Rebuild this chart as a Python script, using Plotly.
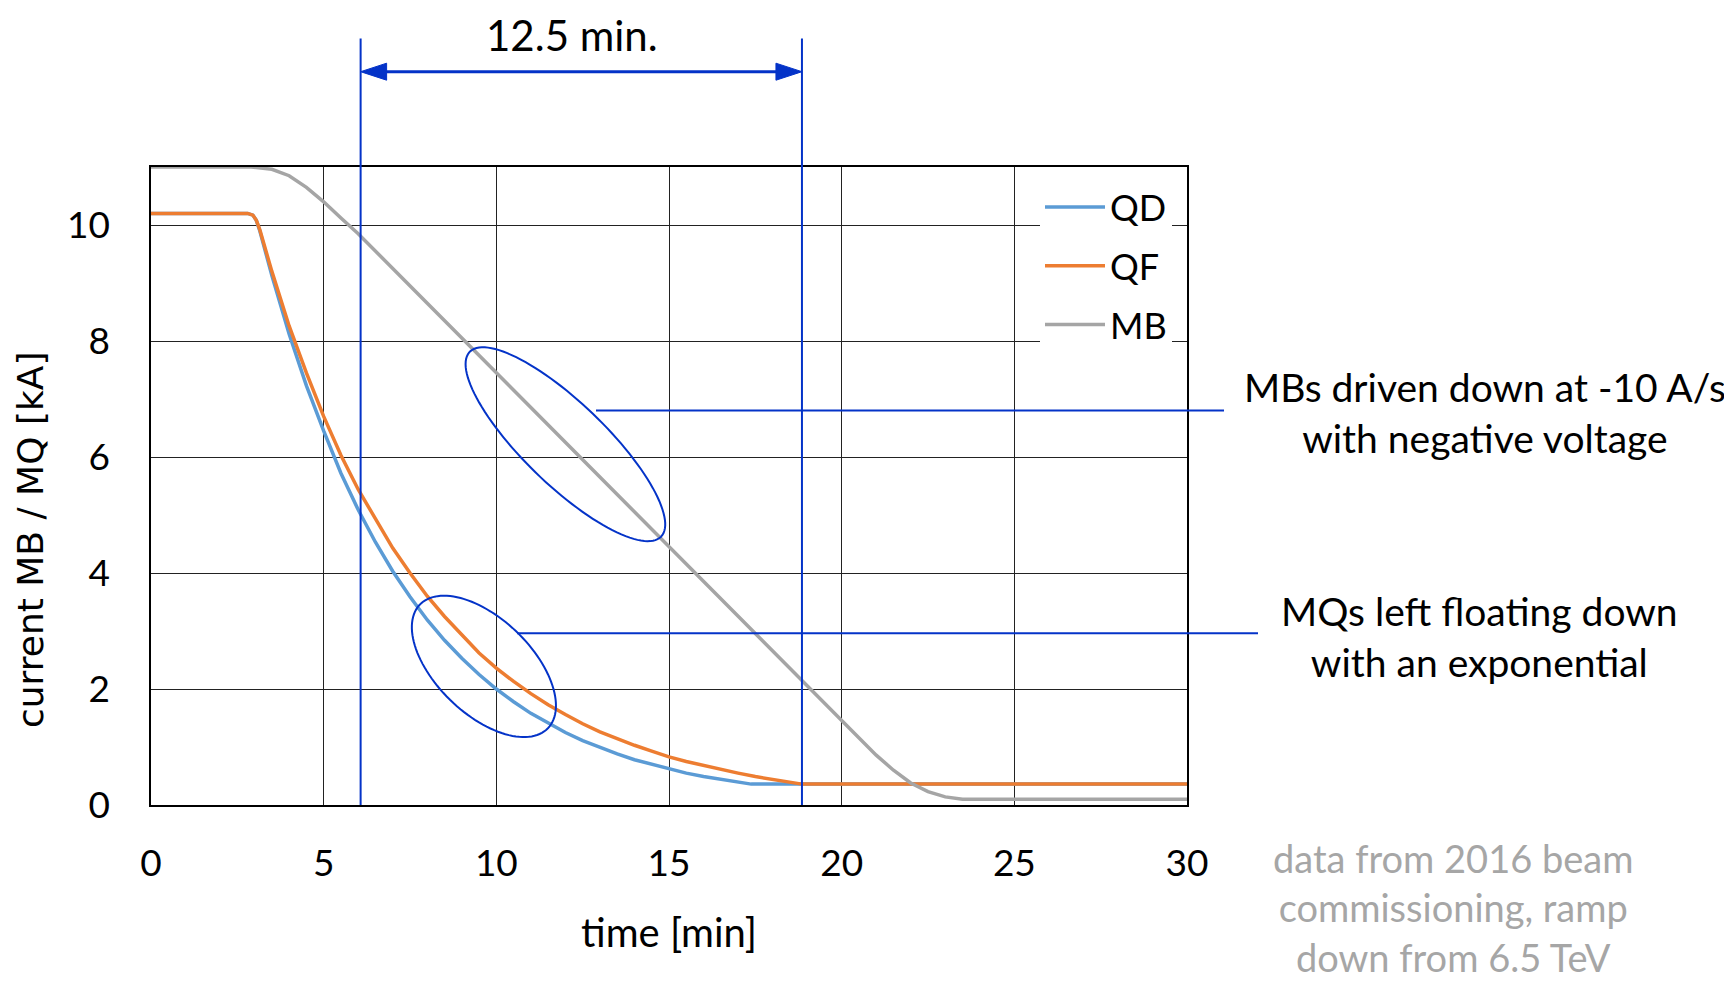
import numpy as np
import plotly.graph_objects as go

# ---------------- data ----------------
t_qd = [0, 2.8, 2.95, 3.05, 3.15, 3.3, 3.5, 4.0, 4.5, 5.0, 5.5, 6.0, 6.5, 7.0, 7.5, 8.0, 8.5, 9.0, 9.5,
        10.0, 10.5, 11.0, 11.5, 12.0, 12.5, 13.0, 13.5, 14.0, 14.5, 15.0, 15.5, 16.0, 16.5, 17.0, 17.38, 30]
qd = [10.2, 10.2, 10.17, 10.08, 9.9, 9.55, 9.13, 8.12, 7.23, 6.45, 5.72, 5.09, 4.53, 4.03, 3.59, 3.19, 2.84, 2.53, 2.25,
      2.0, 1.78, 1.58, 1.41, 1.25, 1.11, 0.99, 0.88, 0.78, 0.70, 0.62, 0.55, 0.49, 0.44, 0.39, 0.36, 0.36]

t_qf = [0, 2.8, 2.95, 3.05, 3.15, 3.3, 3.5, 4.0, 4.5, 5.0, 5.5, 6.0, 6.5, 7.0, 7.5, 8.0, 8.5, 9.0, 9.5,
        10.0, 10.5, 11.0, 11.5, 12.0, 12.5, 13.0, 13.5, 14.0, 14.5, 15.0, 15.5, 16.0, 16.5, 17.0, 17.5, 18.0, 18.5, 18.85, 30]
qf = [10.2, 10.2, 10.17, 10.08, 9.92, 9.6, 9.2, 8.26, 7.45, 6.7, 6.03, 5.44, 4.92, 4.43, 4.0, 3.6, 3.25, 2.93, 2.62,
      2.36, 2.13, 1.92, 1.73, 1.56, 1.40, 1.26, 1.14, 1.03, 0.93, 0.83, 0.75, 0.68, 0.61, 0.55, 0.49, 0.44, 0.40, 0.36, 0.36]

t_mb = [0, 2.9, 3.5, 4.0, 4.5, 5.0, 5.5, 6.0, 8.0, 10.0, 12.0, 14.0, 16.0, 18.0, 20.0, 20.5, 21.0,
        21.5, 22.0, 22.5, 23.0, 23.5, 30]
mb = [11.0, 11.0, 10.96, 10.85, 10.65, 10.4, 10.12, 9.85, 8.65, 7.45, 6.25, 5.05, 3.85, 2.65, 1.45, 1.15, 0.86,
      0.6, 0.38, 0.23, 0.14, 0.1, 0.1]

x_ticks = [0, 5, 10, 15, 20, 25, 30]
y_ticks = [0, 2, 4, 6, 8, 10]
t_start, t_end = 6.07, 18.85   # marked interval (12.5 min)

# ---------------- geometry helpers (page pixel coordinates) ----------------
OFF = 8                      # default page body margin
W, H = 1732 - OFF, 982 - OFF
PL, PR, PT, PB = 151, 1187, 167, 805   # plot area on the page
PW, PH = PR - PL, PB - PT
XR, YR = (0, 30), (0, 11)


def px(X):
    return (X - PL) / PW


def py(Y):
    return (PB - Y) / PH


def dx(t):  # data -> page pixel
    return PL + (t - XR[0]) / (XR[1] - XR[0]) * PW


def dy(v):
    return PB - (v - YR[0]) / (YR[1] - YR[0]) * PH


BLUE = "#0433C8"
FONT = "Lato"

fig = go.Figure()
fig.add_trace(go.Scatter(x=t_qd, y=qd, name="QD", mode="lines", legendgroup="a",
                         line=dict(color="#5B9BD5", width=3.5)))
fig.add_trace(go.Scatter(x=t_qf, y=qf, name="QF", mode="lines", legendgroup="b",
                         line=dict(color="#ED7D31", width=3.5)))
fig.add_trace(go.Scatter(x=t_mb, y=mb, name="MB", mode="lines", legendgroup="c",
                         line=dict(color="#A5A5A5", width=3.5)))

shapes = []
# vertical marker lines
for tt in (t_start, t_end):
    shapes.append(dict(type="line", xref="paper", yref="paper",
                       x0=px(dx(tt)), x1=px(dx(tt)), y0=0, y1=py(38.5),
                       line=dict(color=BLUE, width=2)))
# double arrow
ya = 71.7
xa0, xa1 = dx(t_start), dx(t_end)
hl, hh = 26, 8.5
shapes.append(dict(type="line", xref="paper", yref="paper",
                   x0=px(xa0 + hl - 2), x1=px(xa1 - hl + 2), y0=py(ya), y1=py(ya),
                   line=dict(color=BLUE, width=3)))
for tip, base in ((xa0, xa0 + hl), (xa1, xa1 - hl)):
    path = "M {} {} L {} {} L {} {} Z".format(px(tip), py(ya), px(base), py(ya - hh), px(base), py(ya + hh))
    shapes.append(dict(type="path", xref="paper", yref="paper", path=path,
                       fillcolor=BLUE, line=dict(color=BLUE, width=1)))


def ellipse(cx, cy, a, b, theta_deg):
    th = np.radians(theta_deg)
    s = np.linspace(0, 2 * np.pi, 120)
    X = cx + a * np.cos(s) * np.cos(th) - b * np.sin(s) * np.sin(th)
    Y = cy + a * np.cos(s) * np.sin(th) + b * np.sin(s) * np.cos(th)
    pts = ["{:.5f} {:.5f}".format(px(x), py(y)) for x, y in zip(X, Y)]
    return "M " + " L ".join(pts) + " Z"


shapes.append(dict(type="path", xref="paper", yref="paper", path=ellipse(dx(12.0), dy(6.22), 133, 41, 44),
                   line=dict(color=BLUE, width=2)))
shapes.append(dict(type="path", xref="paper", yref="paper", path=ellipse(dx(9.64), dy(2.39), 89, 47.6, 44),
                   line=dict(color=BLUE, width=2)))
# connector lines to the notes
shapes.append(dict(type="line", xref="paper", yref="paper", x0=px(596), x1=px(1224), y0=py(dy(6.8)), y1=py(dy(6.8)),
                   line=dict(color=BLUE, width=2)))
shapes.append(dict(type="line", xref="paper", yref="paper", x0=px(517), x1=px(1258), y0=py(dy(2.96)), y1=py(dy(2.96)),
                   line=dict(color=BLUE, width=2)))

ann = []
ann.append(dict(text="12.5 min.", x=px(572), y=py(35), xref="paper", yref="paper", showarrow=False,
                font=dict(family=FONT, size=42, color="black"), xanchor="center", yanchor="middle"))
ann.append(dict(text="MBs driven down at -10 A/s<br>with negative voltage", x=px(1485), y=py(412),
                xref="paper", yref="paper", showarrow=False, align="center",
                font=dict(family=FONT, size=39, color="black"), xanchor="center", yanchor="middle"))
ann.append(dict(text="MQs left floating down<br>with an exponential", x=px(1479), y=py(636),
                xref="paper", yref="paper", showarrow=False, align="center",
                font=dict(family=FONT, size=39, color="black"), xanchor="center", yanchor="middle"))
ann.append(dict(text="data from 2016 beam<br>commissioning, ramp<br>down from 6.5 TeV", x=px(1453), y=py(907),
                xref="paper", yref="paper", showarrow=False, align="center",
                font=dict(family=FONT, size=38, color="#A6A6A6"), xanchor="center", yanchor="middle"))
ann.append(dict(text="time [min]", x=px(669), y=py(932), xref="paper", yref="paper", showarrow=False,
                font=dict(family=FONT, size=40, color="black"), xanchor="center", yanchor="middle"))
ann.append(dict(text="current MB / MQ [kA]", x=px(30), y=py(540), xref="paper", yref="paper", showarrow=False,
                textangle=-90, font=dict(family="DejaVu Sans", size=36, color="black"),
                xanchor="center", yanchor="middle"))

fig.update_layout(
    width=W, height=H,
    margin=dict(l=PL - OFF, r=W - (PR - OFF), t=PT - OFF, b=H - (PB - OFF), pad=0),
    paper_bgcolor="white", plot_bgcolor="white",
    showlegend=True,
    legend=dict(x=px(1040), y=py(177), xanchor="left", yanchor="top", bgcolor="white",
                borderwidth=0, font=dict(family=FONT, size=36, color="black"),
                traceorder="grouped", tracegroupgap=9, itemwidth=60),
    shapes=shapes, annotations=ann,
    xaxis=dict(range=list(XR), tickvals=x_ticks, ticktext=[str(v) for v in x_ticks],
               showgrid=True, gridcolor="#222", gridwidth=1, zeroline=False,
               showline=True, linecolor="black", linewidth=1.5, mirror=True, ticks="",
               ticklabelstandoff=25, tickfont=dict(family=FONT, size=37, color="black")),
    yaxis=dict(range=list(YR), tickvals=y_ticks, ticktext=[str(v) for v in y_ticks],
               showgrid=True, gridcolor="#222", gridwidth=1, zeroline=False,
               showline=True, linecolor="black", linewidth=1.5, mirror=True, ticks="",
               ticklabelstandoff=32, tickfont=dict(family=FONT, size=37, color="black")),
)

fig.write_html("out.html")
